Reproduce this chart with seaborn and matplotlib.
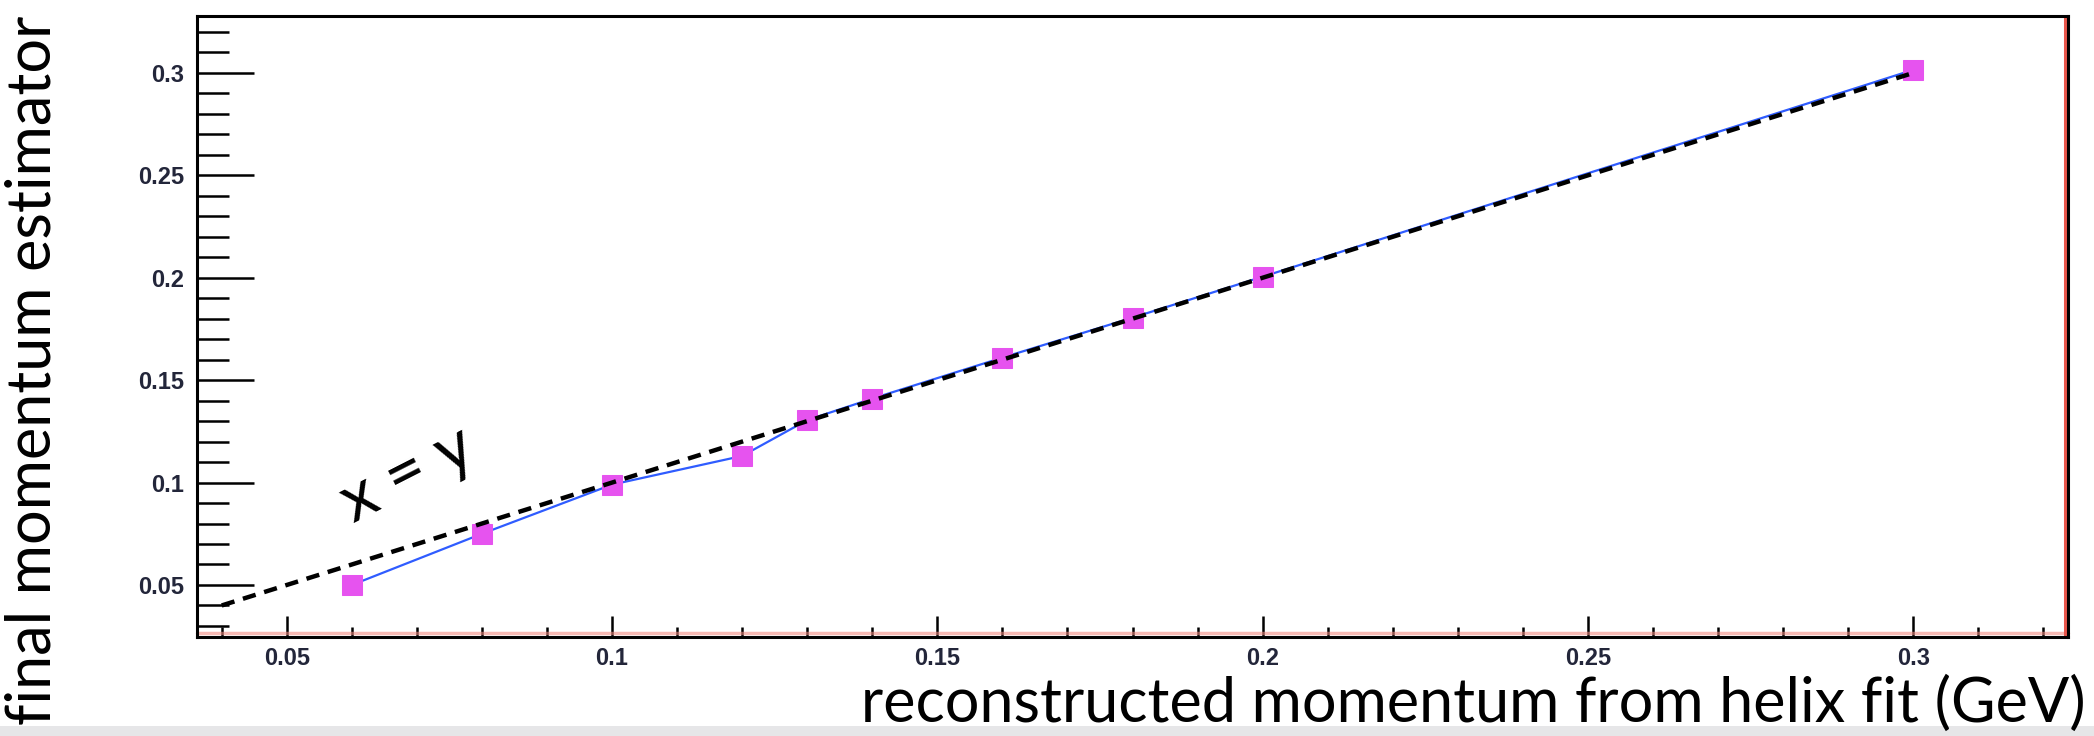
import matplotlib
matplotlib.use("Agg")
import matplotlib.pyplot as plt
from matplotlib.patches import Rectangle
from matplotlib.ticker import MultipleLocator, FuncFormatter
import seaborn as sns
import pandas as pd

# Reconstructed momentum from the helix fit (GeV) and the final estimator
p_helix = [0.06, 0.08, 0.10, 0.12, 0.13, 0.14, 0.16, 0.18, 0.20, 0.30]
p_final = [0.050, 0.075, 0.099, 0.113, 0.1305, 0.141, 0.161, 0.1805, 0.2005, 0.3015]

# Reference diagonal x = y
diag_x = [0.04, 0.30]
diag_y = [0.04, 0.30]

x_ticks = [0.05, 0.1, 0.15, 0.2, 0.25, 0.3]
y_ticks = [0.05, 0.1, 0.15, 0.2, 0.25, 0.3]

sns.set_theme(style="white")
plt.rcParams["font.family"] = ["Lato", "DejaVu Sans"]

fig = plt.figure(figsize=(20.94, 7.36), dpi=100)
fig.patch.set_facecolor("white")

# light grey strip along the bottom edge
fig.add_artist(Rectangle((0, 0), 1, 10 / 736, transform=fig.transFigure,
                         facecolor="#e6e6e8", edgecolor="none", zorder=0))

ax = fig.add_axes([197 / 2094, 1 - 637 / 736, (2068 - 197) / 2094, (637 - 16) / 736])

df = pd.DataFrame({"p_helix": p_helix, "p_final": p_final})
diag = pd.DataFrame({"x": diag_x, "y": diag_y})

sns.lineplot(data=df, x="p_helix", y="p_final", ax=ax, color="#2f5cff",
             linewidth=1.6, marker="s", markersize=14, markerfacecolor="#e653ef",
             markeredgecolor="#e653ef", zorder=3)
sns.lineplot(data=diag, x="x", y="y", ax=ax, color="black", linewidth=3.2,
             zorder=4)
ax.lines[-1].set_dashes([3.0, 2.0])

ax.set_xlim(0.0362, 0.3238)
ax.set_ylim(0.0246, 0.3278)

ax.set_xticks(x_ticks)
ax.set_yticks(y_ticks)
ax.xaxis.set_minor_locator(MultipleLocator(0.01))
ax.yaxis.set_minor_locator(MultipleLocator(0.01))
fmt = FuncFormatter(lambda v, pos: f"{v:g}")
ax.xaxis.set_major_formatter(fmt)
ax.yaxis.set_major_formatter(fmt)

ax.tick_params(axis="both", which="both", direction="in", color="black",
               width=1.8, labelsize=17, labelcolor="#23263a",
               bottom=True, left=True, top=False, right=False)
ax.tick_params(axis="y", which="major", length=41, pad=9)
ax.tick_params(axis="y", which="minor", length=23)
ax.tick_params(axis="x", which="major", length=15, pad=7)
ax.tick_params(axis="x", which="minor", length=7.5)
for lab in ax.get_xticklabels() + ax.get_yticklabels():
    lab.set_fontfamily(["Liberation Sans", "DejaVu Sans"])
    lab.set_fontweight("bold")

for side in ["left", "bottom", "top", "right"]:
    ax.spines[side].set_visible(True)
    ax.spines[side].set_color("black")
    ax.spines[side].set_linewidth(2.2)

# reddish frame shading along the bottom and right edges
ax.plot([0, 1], [0.006, 0.006], transform=ax.transAxes, color="#f08a80",
        linewidth=2.5, alpha=0.6, clip_on=False, zorder=1)
ax.plot([0.9985, 0.9985], [0, 1], transform=ax.transAxes, color="#e8574c",
        linewidth=2.2, clip_on=False, zorder=1)

ax.set_xlabel("")
ax.set_ylabel("")

ax.text(0.0685, 0.104, "x = y", fontsize=48, rotation=27, color="black",
        ha="center", va="center")

fig.text(2086 / 2094, 1 - 704 / 736, "reconstructed momentum from helix fit (GeV)",
         fontsize=44, ha="right", va="center", color="black")
fig.text(33 / 2094, 1 - 370 / 736, "final momentum estimator", fontsize=44,
         rotation=90, ha="center", va="center", color="black")

fig.savefig("out.png", dpi=100, facecolor="white")
